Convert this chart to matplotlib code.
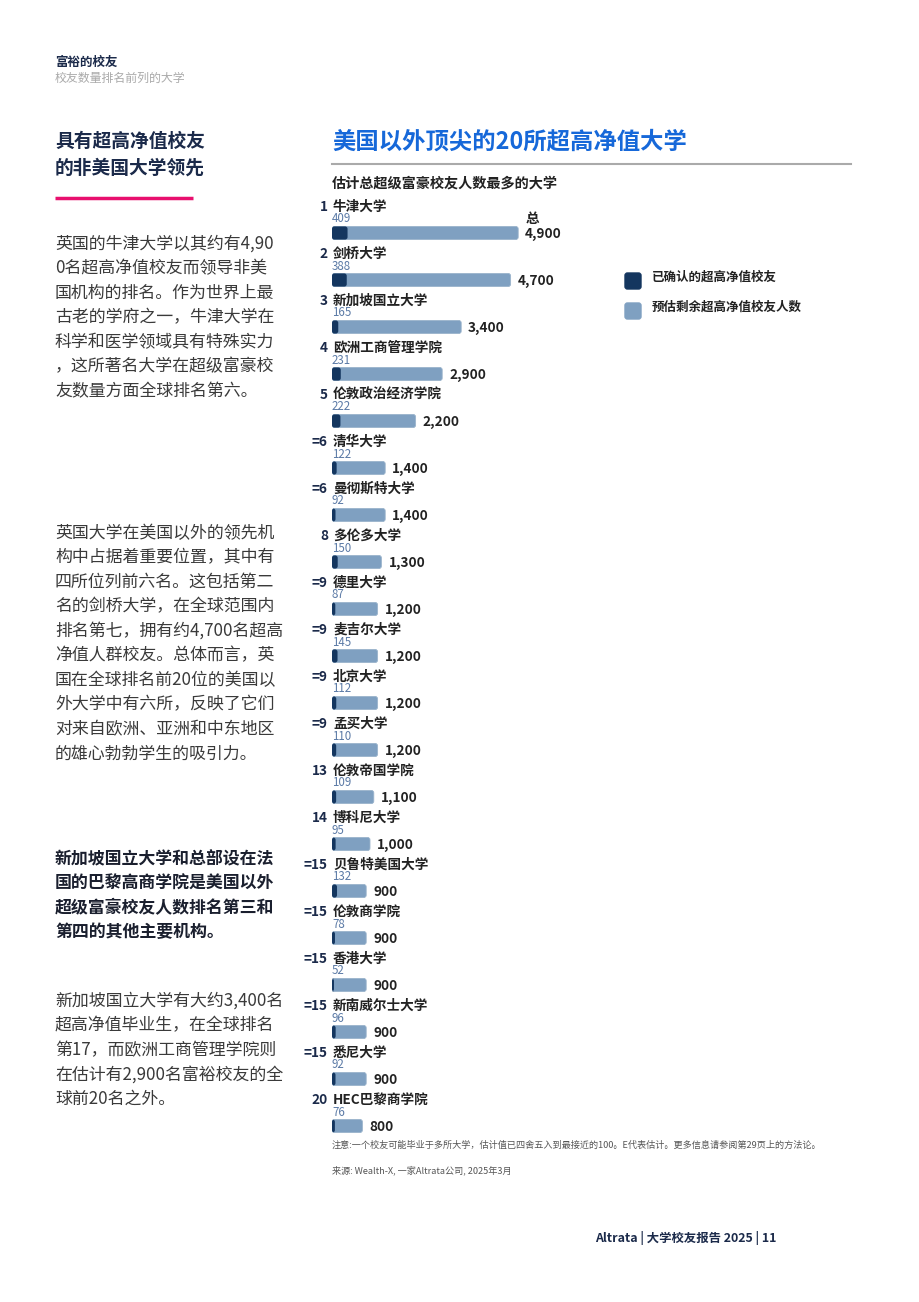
import matplotlib.pyplot as plt
from matplotlib.patches import FancyBboxPatch

plt.rcParams['font.family'] = ['Noto Sans CJK SC', 'DejaVu Sans']

# chart data
ranks = ['1', '2', '3', '4', '5', '=6', '=6', '8', '=9', '=9', '=9', '=9',
         '13', '14', '=15', '=15', '=15', '=15', '=15', '20']
names = ['牛津大学', '剑桥大学', '新加坡国立大学', '欧洲工商管理学院', '伦敦政治经济学院',
         '清华大学', '曼彻斯特大学', '多伦多大学', '德里大学', '麦吉尔大学', '北京大学',
         '孟买大学', '伦敦帝国学院', '博科尼大学', '贝鲁特美国大学', '伦敦商学院',
         '香港大学', '新南威尔士大学', '悉尼大学', 'HEC巴黎商学院']
confirmed = [409, 388, 165, 231, 222, 122, 92, 150, 87, 145, 112, 110,
             109, 95, 132, 78, 52, 96, 92, 76]
totals = [4900, 4700, 3400, 2900, 2200, 1400, 1400, 1300, 1200, 1200, 1200, 1200,
          1100, 1000, 900, 900, 900, 900, 900, 800]
legend_labels = ['已确认的超高净值校友', '预估剩余超高净值校友人数']

para1 = ['英国的牛津大学以其约有4,90', '0名超高净值校友而领导非美', '国机构的排名。作为世界上最',
         '古老的学府之一，牛津大学在', '科学和医学领域具有特殊实力', '，这所著名大学在超级富豪校',
         '友数量方面全球排名第六。']
para2 = ['英国大学在美国以外的领先机', '构中占据着重要位置，其中有', '四所位列前六名。这包括第二',
         '名的剑桥大学，在全球范围内', '排名第七，拥有约4,700名超高', '净值人群校友。总体而言，英',
         '国在全球排名前20位的美国以', '外大学中有六所，反映了它们', '对来自欧洲、亚洲和中东地区',
         '的雄心勃勃学生的吸引力。']
para_bold = ['新加坡国立大学和总部设在法', '国的巴黎高商学院是美国以外', '超级富豪校友人数排名第三和',
             '第四的其他主要机构。']
para3 = ['新加坡国立大学有大约3,400名', '超高净值毕业生，在全球排名', '第17，而欧洲工商管理学院则',
         '在估计有2,900名富裕校友的全', '球前20名之外。']

NAVY = '#14365f'
LIGHT = '#7fa0c1'
W, H = 920, 1302

fig = plt.figure(figsize=(W / 100, H / 100), dpi=100)

# page overlay in pixel coordinates
page = fig.add_axes([0, 0, 1, 1])
page.set_xlim(0, W)
page.set_ylim(H, 0)
page.axis('off')

page.text(55, 62, '富裕的校友', fontsize=9, fontweight='bold', color='#1b2a4a', va='center')
page.text(55, 78, '校友数量排名前列的大学', fontsize=8.6, color='#aaaaaa', va='center')

page.text(55, 141, '具有超高净值校友', fontsize=13.5, fontweight='bold', color='#1b2a4a', va='center')
page.text(55, 168, '的非美国大学领先', fontsize=13.5, fontweight='bold', color='#1b2a4a', va='center')
page.plot([55, 193], [198, 198], color='#e8106e', lw=2.5, solid_capstyle='butt')

def paragraph(lines, y0, bold=False):
    for i, line in enumerate(lines):
        page.text(55, y0 + 24.5 * i, line, fontsize=12.2, va='center',
                  fontweight='bold' if bold else 'light',
                  color='#1a1f2e' if bold else '#3a3a3a')

paragraph(para1, 244)
paragraph(para2, 533)
paragraph(para_bold, 859, bold=True)
paragraph(para3, 1001)

page.text(332, 142, '美国以外顶尖的20所超高净值大学', fontsize=16.8, fontweight='bold',
          color='#1668d9', va='center')
page.plot([332, 851], [164, 164], color='#aaaaaa', lw=1.5)
page.text(332, 183, '估计总超级富豪校友人数最多的大学', fontsize=10.2, fontweight='bold',
          color='#222222', va='center')

# legend
for (y, c, lab) in [(281, NAVY, legend_labels[0]), (311, LIGHT, legend_labels[1])]:
    page.add_patch(FancyBboxPatch((625, y - 8), 16, 16, boxstyle='round,pad=0,rounding_size=2.5',
                                  color=c))
    page.text(652, y - 4, lab, fontsize=9, fontweight='bold', color='#222222', va='center')

page.text(332, 1145, '注意:一个校友可能毕业于多所大学，估计值已四舍五入到最接近的100。E代表估计。更多信息请参阅第29页上的方法论。',
          fontsize=6.6, color='#555555', va='center')
page.text(332, 1170, '来源: Wealth-X, 一家Altrata公司, 2025年3月', fontsize=6.6, color='#555555', va='center')
page.text(776, 1238, 'Altrata | 大学校友报告 2025 | 11', fontsize=8.9, fontweight='bold',
          color='#1b2a4a', va='center', ha='right')

# bar chart axes: x from 332px to 860px, rows 47px apart
px_per_unit = 0.038
left_px, right_px = 332, 860
top_px, bot_px = 186, 1173
ax = fig.add_axes([left_px / W, 1 - bot_px / H, (right_px - left_px) / W, (bot_px - top_px) / H])
ax.set_xlim(0, (right_px - left_px) / px_per_unit)
ax.set_ylim(len(names), -1)
ax.axis('off')

rows = list(range(len(names)))
light_bars = ax.barh(rows, totals, height=0.28, color=LIGHT)
dark_bars = ax.barh(rows, confirmed, height=0.28, color=NAVY, linewidth=0)

# swap plain rectangles for slightly rounded ones (same geometry)
units_x = 1 / px_per_unit
units_y = len(names) + 1
aspect = (units_y / (bot_px - top_px)) / units_x
for bars, col, ec in [(light_bars, LIGHT, '#9bb4cc'), (dark_bars, NAVY, 'none')]:
    for b in bars:
        rp = FancyBboxPatch((b.get_x(), b.get_y()), b.get_width(), b.get_height(),
                            boxstyle=f'round,pad=0,rounding_size={2.5 * units_x}',
                            mutation_aspect=aspect, facecolor=col, edgecolor=ec, linewidth=0.6)
        ax.add_patch(rp)
        b.set_visible(False)

for i in rows:
    ax.annotate(ranks[i], (0, i), xytext=(-4, 26), textcoords='offset pixels',
                ha='right', va='center', fontsize=9.8, fontweight='bold', color='#1b2a4a')
    ax.annotate(names[i], (0, i), xytext=(1, 26), textcoords='offset pixels',
                ha='left', va='center', fontsize=9.8, fontweight='bold', color='#222222')
    ax.annotate(str(confirmed[i]), (0, i), xytext=(0, 14), textcoords='offset pixels',
                ha='left', va='center', fontsize=8.3, fontweight='light', color='#5b7aa6')
    ax.annotate(f'{totals[i]:,}', (totals[i], i), xytext=(7, -1), textcoords='offset pixels',
                ha='left', va='center', fontsize=9.8, fontweight='bold', color='#222222')
ax.annotate('总', (totals[0], 0), xytext=(7, 14), textcoords='offset pixels',
            ha='left', va='center', fontsize=9.8, fontweight='bold', color='#222222')

fig.savefig('out.png', dpi=100)
